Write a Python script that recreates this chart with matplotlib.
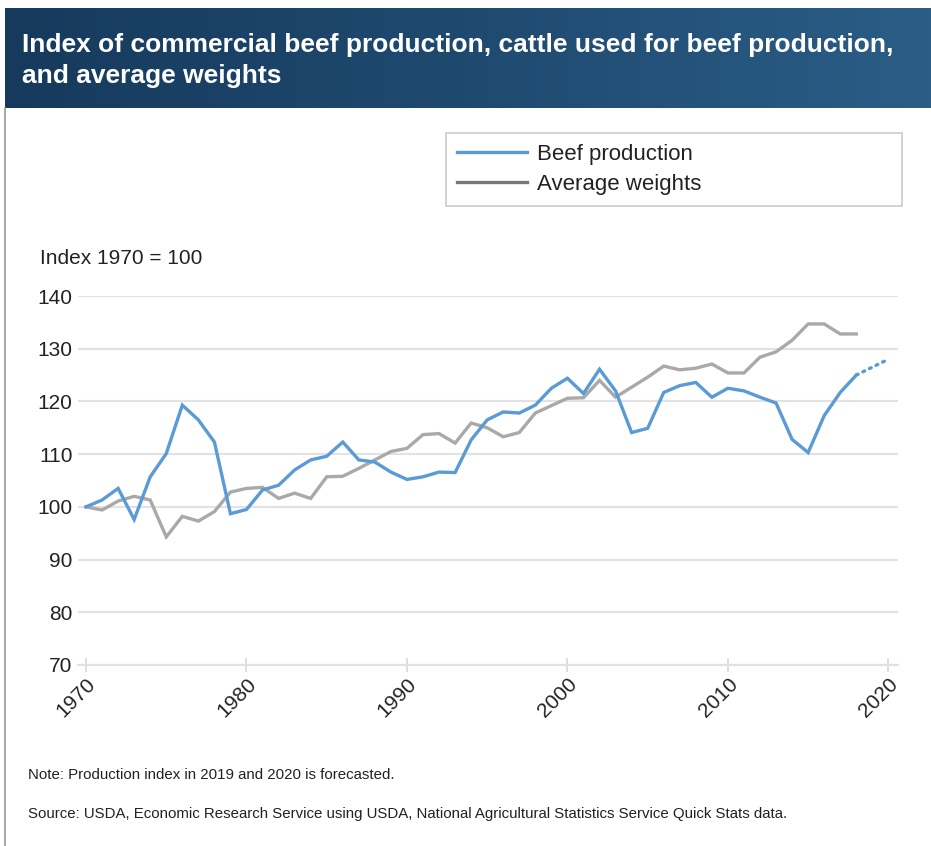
import numpy as np
import matplotlib
matplotlib.use("Agg")
import matplotlib.pyplot as plt
from matplotlib.lines import Line2D

plt.rcParams['font.family'] = ['Liberation Sans', 'DejaVu Sans']

# data (index 1970 = 100)
years = list(range(1970, 2019))
beef = [100.0, 101.3, 103.5, 97.6, 105.7, 110.1, 119.3, 116.5, 112.3, 98.7,
        99.5, 103.2, 104.1, 107.0, 108.9, 109.6, 112.3, 108.9, 108.5, 106.6,
        105.2, 105.7, 106.6, 106.5, 112.7, 116.5, 118.0, 117.8, 119.3, 122.5,
        124.4, 121.5, 126.1, 122.0, 114.1, 114.9, 121.7, 123.0, 123.6, 120.8,
        122.5, 122.0, 120.8, 119.7, 112.8, 110.3, 117.3, 121.7, 125.0]
forecast_years = [2018, 2019, 2020]
forecast = [125.0, 126.5, 128.0]
weights = [100.0, 99.4, 101.1, 102.0, 101.3, 94.3, 98.2, 97.3, 99.1, 102.8,
           103.5, 103.7, 101.6, 102.6, 101.6, 105.7, 105.8, 107.3, 108.9, 110.5,
           111.1, 113.7, 113.9, 112.1, 115.9, 115.0, 113.3, 114.1, 117.8, 119.2,
           120.6, 120.7, 124.0, 120.8, 122.7, 124.6, 126.7, 126.0, 126.3, 127.1,
           125.4, 125.4, 128.4, 129.4, 131.6, 134.7, 134.7, 132.8, 132.8]
yticks = [70, 80, 90, 100, 110, 120, 130, 140]
xticks = [1970, 1980, 1990, 2000, 2010, 2020]

blue = '#5a9bd6'
grey = '#a9a9a9'
W, H = 931, 846

fig = plt.figure(figsize=(W / 100, H / 100), dpi=100)

# header band with a gradient
hdr = fig.add_axes([5 / W, 1 - 108 / H, 1 - 5 / W, 100 / H])
grad = np.linspace(0, 1, 256).reshape(1, -1)
cmap = matplotlib.colors.LinearSegmentedColormap.from_list('hdr', ['#163a5c', '#1f4a70', '#2b5d86'])
hdr.imshow(grad, aspect='auto', cmap=cmap, extent=[0, 1, 0, 1])
hdr.axis('off')
fig.text(22 / W, 1 - 45 / H, 'Index of commercial beef production, cattle used for beef production,',
         color='white', fontsize=19, fontweight='bold', va='center', ha='left')
fig.text(22 / W, 1 - 76 / H, 'and average weights',
         color='white', fontsize=19, fontweight='bold', va='center', ha='left')

# left border of the card
fig.add_artist(Line2D([5 / W, 5 / W], [0, 1 - 108 / H], color='#9a9a9a', lw=1.2))

ax = fig.add_axes([78 / W, 1 - 665 / H, 820 / W, 369 / H])
ax.plot(years, weights, color=grey, lw=2.4, solid_joinstyle='miter', zorder=3)
ax.plot(years, beef, color=blue, lw=2.4, solid_joinstyle='miter', zorder=4)
ax.plot(forecast_years, forecast, color=blue, lw=2.4, ls=(0, (0.6, 1.6)),
        dash_capstyle='round', zorder=4)

ax.set_xlim(1969.5, 2020.6)
ax.set_ylim(70, 140)
ax.set_yticks(yticks)
ax.set_xticks(xticks)
ax.grid(axis='y', color='#e2e2e2', lw=1.5)
ax.set_axisbelow(True)
for s in ['top', 'right', 'left']:
    ax.spines[s].set_visible(False)
ax.spines['bottom'].set_color('#e2e2e2')
ax.spines['bottom'].set_linewidth(1.5)
ax.tick_params(axis='y', length=0, labelsize=15, pad=4, labelcolor='#222222')
ax.tick_params(axis='x', length=10, direction='inout', color='#d8d8d8', width=1.2,
               labelsize=15, labelcolor='#222222', labelrotation=45, pad=2)
for lab in ax.get_xticklabels():
    lab.set_ha('right')
    lab.set_rotation_mode('anchor')

fig.text(40 / W, 1 - 258 / H, 'Index 1970 = 100', fontsize=15, color='#222222', va='center')

leg = ax.legend(handles=[Line2D([], [], color=blue, lw=2.4),
                         Line2D([], [], color='#777777', lw=2.4)],
                labels=['Beef production', 'Average weights'],
                loc='upper left', bbox_to_anchor=(446 / W, 1 - 203 / H, 456 / W, 70 / H),
                bbox_transform=fig.transFigure, mode='expand', frameon=True, fancybox=False,
                framealpha=1, fontsize=16, handlelength=3.15, handletextpad=0.45,
                labelspacing=0.38, borderpad=0.5, borderaxespad=0)
leg.get_frame().set_edgecolor('#cccccc')
leg.get_frame().set_linewidth(1.2)
for t in leg.get_texts():
    t.set_color('#222222')

fig.text(28 / W, 1 - 775 / H, 'Note: Production index in 2019 and 2020 is forecasted.',
         fontsize=10.8, color='#222222', va='center')
fig.text(28 / W, 1 - 814 / H,
         'Source: USDA, Economic Research Service using USDA, National Agricultural Statistics Service Quick Stats data.',
         fontsize=10.8, color='#222222', va='center')

fig.savefig('out.png', dpi=100)
